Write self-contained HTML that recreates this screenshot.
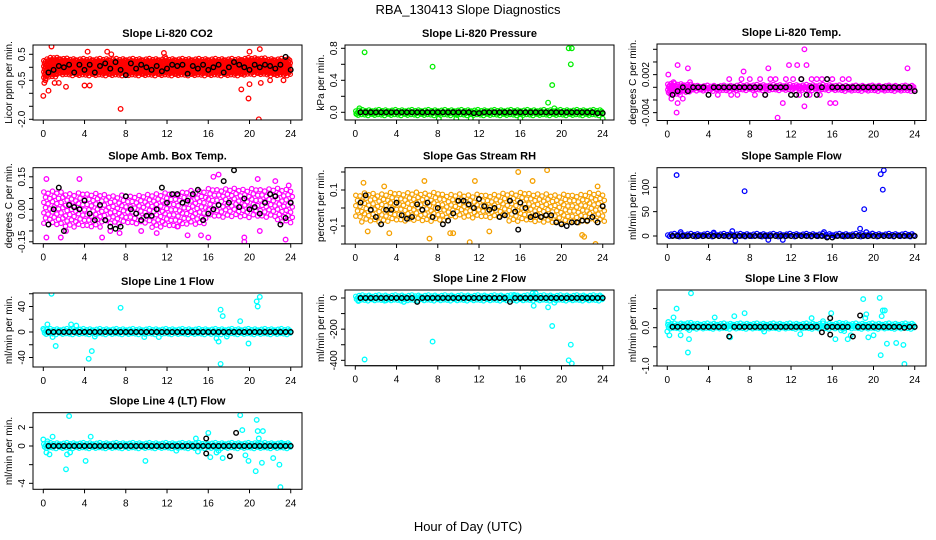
<!DOCTYPE html>
<html><head><meta charset="utf-8"><style>
html,body{margin:0;padding:0;background:#fff;}
svg{display:block;font-family:"Liberation Sans",Arial,sans-serif;}
</style></head><body>
<svg id="fig" width="936" height="540" viewBox="0 0 936 540" xmlns="http://www.w3.org/2000/svg">
<text x="468" y="14" text-anchor="middle" font-size="13">RBA_130413  Slope Diagnostics</text>
<text x="468" y="531" text-anchor="middle" font-size="13">Hour of Day (UTC)</text>
</svg>
<script>
// ---------- DATA ----------
const xTicks = [0,4,8,12,16,20,24];

const co2BandLo = [-0.45,-0.35,-0.28,-0.28,-0.28,-0.28,-0.28,-0.28,-0.28,-0.28,-0.28,-0.28,-0.28,-0.28,-0.28,-0.28,-0.28,-0.28,-0.28,-0.28,-0.3,-0.28,-0.28,-0.28,-0.28];
const co2BandHi = [0.25,0.35,0.3,0.28,0.28,0.28,0.28,0.28,0.28,0.28,0.28,0.28,0.28,0.28,0.28,0.28,0.28,0.28,0.28,0.28,0.32,0.32,0.28,0.28,0.28];
const co2OutX = [0,0.5,0.8,1.1,1.5,2.2,4.0,4.5,7.5,4.3,6.2,11.7,11.8,19.2,19.9,20.0,20.9,21.1,22.0,23.3,20.0,21.0,6.6,0.2,0.1];
const co2OutY = [-1.1,-0.9,0.8,-0.6,-0.6,-0.75,-0.7,-0.7,-1.6,0.6,0.6,0.55,0.4,-0.85,-1.2,-0.65,-2.0,-0.6,-0.5,-0.5,0.6,0.7,0.5,-0.5,-0.6];
const co2Blk = [-0.2,-0.1,0.05,0.0,0.1,-0.2,0.1,-0.1,0.1,-0.2,0.05,0.15,-0.05,0.2,-0.1,-0.3,0.15,-0.05,0.1,0.0,-0.1,0.05,-0.15,-0.05,0.1,0.05,0.1,-0.25,0.05,-0.05,0.1,-0.1,0.0,0.1,-0.2,0.0,0.2,0.1,0.0,-0.1,0.1,0.0,0.1,0.05,-0.05,0.1,0.4,-0.1];
const co2ExX = [], co2ExY = [];

const presBandLo = [-0.02,-0.02,-0.02,-0.02,-0.02,-0.02,-0.02,-0.02,-0.02,-0.02,-0.02,-0.02,-0.02,-0.02,-0.02,-0.02,-0.02,-0.02,-0.02,-0.02,-0.02,-0.02,-0.02,-0.02,-0.02];
const presBandHi = [0.015,0.015,0.015,0.015,0.015,0.015,0.015,0.015,0.015,0.015,0.015,0.015,0.015,0.015,0.015,0.015,0.015,0.015,0.015,0.015,0.015,0.015,0.015,0.015,0.015];
const presOutX = [0.9,7.5,8.1,9.8,11.2,16.0,18.7,19.1,19.3,20.7,21.0,20.9,24.0,0.4,0.1];
const presOutY = [0.75,0.57,-0.08,-0.08,-0.08,-0.08,0.12,0.34,0.05,0.8,0.8,0.6,-0.08,0.05,-0.02];
const presBlk = [0,0,0,0,0,0,0,0,0,0,0,0,0,0,0,0,0,0,0,0,0,0,-0.01,-0.01,0,0,0,0,0,0,0,0,0,0,0,0,0,0,0,0,0,0,0,0,0,0,-0.01,-0.01];
const presExX = [], presExY = [];

const tempBandLo = [-0.0012,-0.001,-0.0008,-0.0005,-0.0005,-0.0005,-0.0005,-0.0006,-0.0006,-0.0006,-0.0006,-0.0006,-0.0006,-0.0006,-0.0006,-0.0006,-0.0005,-0.0005,-0.0005,-0.0005,-0.0005,-0.0005,-0.0005,-0.0005,-0.0005];
const tempBandHi = [0.0005,0.0004,0.0003,0.0001,0.0001,0.0001,0.0001,0.0002,0.0002,0.0002,0.0002,0.0002,0.0002,0.0002,0.0002,0.0002,0.0002,0.0001,0.0001,0.0001,0.0001,0.0001,0.0001,0.0001,0.0001];
const tempOutX = [0.1,1.0,2.0,0.9,10.7,13.3,13.5,11.8,12.6,7.4,23.3,9.8,13.3,11.2,15.8,16.3,1.0,4.9,6.2,6.8,7.2,8.0,9.0,10.0,10.5,11.5,12.2,13.0,14.0,14.5,15.0,15.5,16.0,17.0,17.6,8.5,9.5,12.8,13.8,14.8,6.0,0.4,1.5,2.2,0.6];
const tempOutY = [0.002,0.0035,0.003,-0.004,-0.0048,0.006,0.0035,0.0035,0.0035,0.0025,0.003,0.003,-0.003,-0.0025,-0.0025,-0.0025,-0.0025,-0.0012,-0.0012,-0.0012,0.0013,0.0013,0.0013,0.0013,0.0013,0.0013,0.0013,0.0013,0.0013,0.0013,0.0013,0.0013,0.0013,0.0013,0.0013,-0.0012,-0.0012,-0.0012,-0.0012,-0.0012,0.0013,-0.0018,-0.0018,0.0008,0.0008];
const tempBlk = [-0.0012,-0.0006,0,-0.0006,0,0,0,-0.0012,0,0,0,0,0,0,0,0,0,0,-0.0012,0,0,0,0,-0.0012,-0.0012,0.0013,-0.0012,0,-0.0012,0,0.0013,0,0,0,0,0,0,0,0,0,0,0,0,0,0,0,0,-0.0006];
const tempExX = [], tempExY = [];

const ambBandLo = [-0.08,-0.08,-0.08,-0.08,-0.08,-0.08,-0.08,-0.08,-0.08,-0.08,-0.08,-0.08,-0.08,-0.08,-0.08,-0.07,-0.05,-0.05,-0.05,-0.05,-0.05,-0.05,-0.05,-0.06,-0.06];
const ambBandHi = [0.08,0.08,0.07,0.07,0.07,0.07,0.06,0.06,0.06,0.06,0.06,0.07,0.07,0.07,0.08,0.08,0.09,0.09,0.09,0.09,0.09,0.09,0.09,0.09,0.09];
const ambOutX = [0.3,0.3,3.5,3.3,5.7,5.8,1.7,6.5,9.5,11,14,15.3,16,16.5,17,19.5,19.5,21,20.8,22.5,23.5,23.8,13,7.4,2.2];
const ambOutY = [0.14,-0.13,0.14,-0.17,-0.13,-0.17,-0.13,-0.1,-0.1,-0.11,-0.12,-0.12,-0.13,0.15,0.16,-0.13,-0.15,-0.1,0.14,0.13,-0.14,0.11,-0.08,-0.11,-0.1];
const ambBlk = [-0.07,0.0,0.1,-0.1,0.02,0.01,0.0,0.04,-0.02,-0.05,0.02,-0.05,-0.08,-0.09,-0.08,0.06,0.0,-0.02,-0.05,-0.03,-0.03,0.0,0.1,0.03,0.07,0.07,0.03,0.04,0.07,0.09,-0.05,-0.02,0.0,0.02,0.13,0.03,0.18,0.01,0.05,0.0,0.01,-0.02,0.03,0.07,0.06,-0.07,-0.04,0.03];
const ambExX = [], ambExY = [];

const rhBandLo = [-0.07,-0.08,-0.08,-0.08,-0.08,-0.07,-0.07,-0.07,-0.07,-0.07,-0.07,-0.07,-0.07,-0.07,-0.07,-0.07,-0.07,-0.07,-0.08,-0.08,-0.08,-0.08,-0.08,-0.08,-0.08];
const rhBandHi = [0.07,0.08,0.07,0.08,0.08,0.08,0.08,0.08,0.08,0.07,0.07,0.07,0.07,0.07,0.07,0.08,0.08,0.08,0.07,0.07,0.07,0.07,0.07,0.08,0.08];
const rhOutX = [0.8,1.2,3.3,6.7,7.2,9.2,11.1,11.6,15.8,18.6,17.2,22,23.3,23.5,13,9.5,22.2,2.8];
const rhOutY = [0.14,-0.13,-0.14,0.15,-0.17,-0.14,-0.19,0.15,0.2,0.21,0.15,-0.15,-0.2,0.12,-0.13,-0.14,-0.16,0.12];
const rhBlk = [0.03,0.07,-0.01,-0.05,-0.09,-0.01,-0.01,0.03,-0.04,-0.06,-0.05,0.02,-0.01,0.03,-0.05,0.0,-0.09,-0.07,-0.03,0.04,0.04,0.02,0.0,0.05,0.01,-0.01,0.0,-0.05,-0.04,0.04,-0.02,0.03,0.0,-0.05,-0.04,-0.05,-0.04,-0.04,-0.08,-0.09,-0.1,-0.08,-0.08,-0.07,-0.07,-0.05,-0.08,0.01];
const rhExX = [15.8], rhExY = [-0.12];

const smpBandLo = [-2,-2,-2,-2,-2,-2,-2,-2,-2,-2,-2,-2,-2,-2,-2,-2,-2,-2,-2,-2,-2,-2,-2,-2,-2];
const smpBandHi = [2,2,2,2,2,2,2,2,2,2,2,2,2,2,2,2,2,2,2,2,2,2,2,2,2];
const smpOutX = [0.9,7.5,18.7,19.1,19.3,20.7,21.0,20.9,6.6,9.8,11.2,15.2,6.3,4.5,1.3,19.9];
const smpOutY = [125,92,15,55,8,127,135,95,-10,-8,-8,8,10,7,8,5];
const smpBlk = [0,0,0,0,0,0,0,0,0,0,0,0,0,0,0,0,0,0,0,0,0,0,0,0,0,0,0,0,0,0,-3,-3,0,0,0,0,0,0,0,0,0,0,0,0,0,0,0,0];
const smpExX = [], smpExY = [];

const l1BandLo = [-3,-3,-3,-3,-3,-3,-3,-3,-3,-3,-3,-3,-3,-3,-3,-3,-3,-3,-3,-3,-3,-3,-3,-3,-3];
const l1BandHi = [3,3,3,3,3,3,3,3,3,3,3,3,3,3,3,3,3,3,3,3,3,3,3,3,3];
const l1OutX = [0,0.4,0.8,0.9,1.2,2.7,3.2,4.4,4.7,5.0,7.5,9.8,11.2,17.2,17.4,17.2,17.0,16.8,19.1,19.9,20.7,20.8,21.0,17.8];
const l1OutY = [5,12,60,-8,-22,12,10,-42,-30,-7,38,-8,-8,35,25,-50,-15,-10,17,-18,48,40,55,-7];
const l1Blk = [0,0,0,0,0,0,0,0,0,0,0,0,0,0,0,0,0,0,0,0,0,0,0,0,0,0,0,0,0,0,0,0,0,0,0,0,0,0,0,0,0,0,0,0,0,0,0,0];
const l1ExX = [], l1ExY = [];

const l2BandLo = [-10,-10,-10,-10,-10,-10,-10,-10,-10,-10,-10,-10,-10,-10,-10,-10,-10,-10,-10,-10,-10,-10,-10,-10,-10];
const l2BandHi = [10,10,10,10,10,10,10,10,10,10,10,10,10,10,10,10,10,10,10,10,10,10,10,10,10];
const l2OutX = [0.3,0.9,4.7,7.5,17.3,18.7,19.1,19.3,20.7,20.9,21.0,17.2,17.5,15.4,3];
const l2OutY = [-20,-395,-25,-280,-50,-60,-180,-30,-400,-300,-420,30,30,20,-15];
const l2Blk = [0,0,0,0,0,0,0,0,0,0,0,-25,0,0,0,0,0,0,0,0,0,0,0,0,0,0,0,0,0,-25,0,0,0,0,0,0,0,0,0,0,0,0,0,0,0,0,0,0];
const l2ExX = [], l2ExY = [];

const l3BandLo = [-0.06,-0.05,-0.05,-0.05,-0.05,-0.05,-0.05,-0.05,-0.05,-0.05,-0.05,-0.05,-0.05,-0.05,-0.05,-0.05,-0.05,-0.05,-0.05,-0.05,-0.05,-0.05,-0.05,-0.05,-0.05];
const l3BandHi = [0.08,0.08,0.1,0.08,0.08,0.08,0.08,0.08,0.08,0.08,0.08,0.08,0.08,0.08,0.08,0.08,0.08,0.1,0.08,0.08,0.08,0.08,0.08,0.08,0.08];
const l3OutX = [0,0.2,0.1,0.6,0.9,1.3,2.0,2.1,2.3,4.6,6.5,7.5,6.1,9.4,12.9,14,15.1,15.9,16.3,17.5,17.8,19.0,19.3,19.5,20.0,20.6,20.7,20.9,20.8,21.1,21.3,22.2,22.9,23.0,19.2];
const l3OutY = [-0.1,-0.2,0.15,0.27,0.5,-0.2,-0.65,-0.3,0.9,0.27,0.3,0.38,-0.25,-0.1,-0.17,0.25,0.17,0.38,-0.3,-0.3,-0.2,0.75,0.35,-0.25,-0.2,0.78,-0.72,0.45,0.3,0.45,-0.42,-0.4,-0.45,-0.95,0.25];
const l3Blk = [0.02,0.02,0.02,0.02,0.02,0.02,0.02,0.02,0.02,0.02,0.02,-0.23,0.02,0.02,0.02,0.02,0.02,0.02,0.02,0.02,0.02,0.02,0.02,0.02,0.02,0.02,0.02,0.02,0.02,-0.12,0.02,0.02,0.02,0.02,0.02,-0.23,0.02,0.02,0.02,0.02,0.02,0.02,0.02,0.02,0.02,0.0,0.02,0.02];
const l3ExX = [15.8,15.8,18.7], l3ExY = [0.25,-0.18,0.32];

const l4BandLo = [-0.2,-0.2,-0.2,-0.2,-0.2,-0.2,-0.2,-0.2,-0.2,-0.2,-0.2,-0.2,-0.2,-0.2,-0.2,-0.2,-0.2,-0.2,-0.2,-0.2,-0.2,-0.2,-0.2,-0.2,-0.2];
const l4BandHi = [0.2,0.2,0.2,0.2,0.2,0.2,0.2,0.2,0.2,0.2,0.2,0.2,0.2,0.2,0.2,0.2,0.2,0.2,0.2,0.2,0.2,0.2,0.2,0.2,0.2];
const l4OutX = [0,0.3,0.4,0.6,0.9,2.2,2.5,2.6,2.3,4.1,4.6,9.9,12.9,14.8,15.0,16.0,16.2,16.8,17.0,17.4,19.1,19.3,19.6,19.9,20.6,20.7,20.8,20.9,21.3,21.2,22.3,22.9,23.0,23.2];
const l4OutY = [0.7,-0.7,0.5,-0.9,1.0,-2.5,3.2,-0.7,-0.9,-1.6,1.0,-1.6,-0.5,0.8,-0.6,1.4,-1.2,-0.7,-0.5,-1.3,3.3,1.7,-1.0,-1.6,-2.7,2.8,1.6,0.8,1.6,-1.8,-1.3,-2.0,-4.4,0.2];
const l4Blk = [0,0,0,0,0,0,0,0,0,0,0,0,0,0,0,0,0,0,0,0,0,0,0,0,0,0,0,0,0,0,0,0,0,0,0,0,0,0,0,0,0,0,0,0,0,0,0,0];
const l4ExX = [15.8,15.8,18.1,18.7], l4ExY = [0.8,-0.8,-1.1,1.4];

// tick values / labels
const co2YTicks = [0.5,0,-0.5,-1,-1.5,-2], co2YLabels = ["0.5","","-0.5","","","-2.0"];
const presYTicks = [0,0.2,0.4,0.6,0.8], presYLabels = ["0.0","","0.4","","0.8"];
const tempYTicks = [-0.004,-0.002,0,0.002,0.004,0.006], tempYLabels = ["-0.004","","","0.002","",""];
const ambYTicks = [-0.15,-0.1,-0.05,0,0.05,0.1,0.15], ambYLabels = ["-0.15","","","0.00","","","0.15"];
const rhYTicks = [-0.2,-0.1,0,0.1,0.2], rhYLabels = ["","-0.1","","0.1",""];
const smpYTicks = [0,50,100], smpYLabels = ["0","50","100"];
const l1YTicks = [-40,-20,0,20,40,60], l1YLabels = ["-40","","0","","40",""];
const l2YTicks = [-400,-300,-200,-100,0], l2YLabels = ["-400","","-200","","0"];
const l3YTicks = [-1,-0.5,0,0.5], l3YLabels = ["-1.0","","0.0",""];
const l4YTicks = [-4,-2,0,2], l4YLabels = ["-4","","0","2"];

// ---------- LAYOUT ----------
const panels = [
 {id:'co2',title:'Slope Li-820 CO2',ylab:'Licor ppm per min.',col:0,top:45,bot:120,y0:67.3,ppu:26,color:'#ff0000',lo:co2BandLo,hi:co2BandHi,ox:co2OutX,oy:co2OutY,blk:co2Blk,ex:co2ExX,ey:co2ExY,yt:co2YTicks,yl:co2YLabels},
 {id:'pressure',title:'Slope Li-820 Pressure',ylab:'kPa per min.',col:1,top:45,bot:120,y0:112.3,ppu:80,color:'#00ee00',lo:presBandLo,hi:presBandHi,ox:presOutX,oy:presOutY,blk:presBlk,ex:presExX,ey:presExY,yt:presYTicks,yl:presYLabels},
 {id:'temp',title:'Slope Li-820 Temp.',ylab:'degrees C per min.',col:2,top:44,bot:120.5,y0:87.3,ppu:6333,color:'#ff00ff',lo:tempBandLo,hi:tempBandHi,ox:tempOutX,oy:tempOutY,blk:tempBlk,ex:tempExX,ey:tempExY,yt:tempYTicks,yl:tempYLabels},
 {id:'amb-box-temp',title:'Slope Amb. Box Temp.',ylab:'degrees C per min.',col:0,top:167.7,bot:243.7,y0:209.3,ppu:216.7,color:'#ff00ff',lo:ambBandLo,hi:ambBandHi,ox:ambOutX,oy:ambOutY,blk:ambBlk,ex:ambExX,ey:ambExY,yt:ambYTicks,yl:ambYLabels,sparse:true},
 {id:'gas-rh',title:'Slope Gas Stream RH',ylab:'percent per min.',col:1,top:167.7,bot:244,y0:208,ppu:180,color:'#f5a000',lo:rhBandLo,hi:rhBandHi,ox:rhOutX,oy:rhOutY,blk:rhBlk,ex:rhExX,ey:rhExY,yt:rhYTicks,yl:rhYLabels,sparse:true},
 {id:'sample-flow',title:'Slope Sample Flow',ylab:'ml/min per min.',col:2,top:167.7,bot:244,y0:236,ppu:0.487,color:'#0000ff',lo:smpBandLo,hi:smpBandHi,ox:smpOutX,oy:smpOutY,blk:smpBlk,ex:smpExX,ey:smpExY,yt:smpYTicks,yl:smpYLabels},
 {id:'line1',title:'Slope Line 1 Flow',ylab:'ml/min per min.',col:0,top:293,bot:367,y0:332,ppu:0.6375,color:'#00ffff',lo:l1BandLo,hi:l1BandHi,ox:l1OutX,oy:l1OutY,blk:l1Blk,ex:l1ExX,ey:l1ExY,yt:l1YTicks,yl:l1YLabels},
 {id:'line2',title:'Slope Line 2 Flow',ylab:'ml/min per min.',col:1,top:290,bot:365.7,y0:298,ppu:0.1558,color:'#00ffff',lo:l2BandLo,hi:l2BandHi,ox:l2OutX,oy:l2OutY,blk:l2Blk,ex:l2ExX,ey:l2ExY,yt:l2YTicks,yl:l2YLabels},
 {id:'line3',title:'Slope Line 3 Flow',ylab:'ml/min per min.',col:2,top:290,bot:366,y0:327.7,ppu:38.2,color:'#00ffff',lo:l3BandLo,hi:l3BandHi,ox:l3OutX,oy:l3OutY,blk:l3Blk,ex:l3ExX,ey:l3ExY,yt:l3YTicks,yl:l3YLabels},
 {id:'line4',title:'Slope Line 4 (LT) Flow',ylab:'ml/min per min.',col:0,top:412.7,bot:489.3,y0:446,ppu:9.33,color:'#00ffff',lo:l4BandLo,hi:l4BandHi,ox:l4OutX,oy:l4OutY,blk:l4Blk,ex:l4ExX,ey:l4ExY,yt:l4YTicks,yl:l4YLabels}
];

const NS='http://www.w3.org/2000/svg';
const svg=document.getElementById('fig');
function mk(tag,attrs,parent){const e=document.createElementNS(NS,tag);for(const k in attrs)e.setAttribute(k,attrs[k]);parent.appendChild(e);return e;}
const jit=[0,1.3,-0.8,0.6,-1.4,0.9,-0.3,1.6,-1.1,0.2];

panels.forEach(p=>{
  const off=p.col*312;
  const L=33+off, R=302+off;
  const xs=h=>43.3+off+h*10.31;
  const ys=v=>p.y0-v*p.ppu;
  const g=mk('g',{},svg);
  
  
  const cp=mk('clipPath',{id:'cp-'+p.id},g);
  mk('rect',{x:L,y:p.top,width:R-L,height:p.bot-p.top},cp);
  const plot=mk('g',{'clip-path':'url(#cp-'+p.id+')'},g);
  
  
  const band=mk('g',{fill:'none',stroke:p.color,'stroke-width':1.2},plot);
  
  
  const xstep=p.sparse?0.42:0.16, ystep=p.sparse?5.2:2.8;
  let col=0;
  for(let h=0.05;h<=24;h+=xstep){
    const i=Math.min(23,Math.floor(h)), f=h-i;
    const lo=p.lo[i]+(p.lo[i+1]-p.lo[i])*f, hi=p.hi[i]+(p.hi[i+1]-p.hi[i])*f;
    const j=jit[col%jit.length];
    const y1=ys(hi)+j, y2=ys(lo)+j;
    let k=0;
    for(let y=y1;y<=y2+0.01;y+=ystep){
      const c=mk('circle',{cx:(xs(h)+((k%2)?xstep*4:0)).toFixed(1),cy:y.toFixed(1),r:2.2},band);
      
      
      k++;
    }
    col++;
  }
  const og=mk('g',{fill:'none',stroke:p.color,'stroke-width':1.3},plot);
  
  
  p.ox.forEach((x,i)=>{
    const c=mk('circle',{cx:xs(x).toFixed(1),cy:ys(p.oy[i]).toFixed(1),r:2.3},og);
    
    
  });
  const bg=mk('g',{fill:'none',stroke:'#000','stroke-width':1.4},plot);
  
  
  p.blk.forEach((v,i)=>{
    const c=mk('circle',{cx:xs(0.5*(i+1)).toFixed(1),cy:ys(v).toFixed(1),r:2.3},bg);
    
    
  });
  p.ex.forEach((x,i)=>{
    const c=mk('circle',{cx:xs(x).toFixed(1),cy:ys(p.ey[i]).toFixed(1),r:2.3},bg);
    
    
  });
  const box=mk('rect',{x:L,y:p.top,width:R-L,height:p.bot-p.top,fill:'none',stroke:'#000','stroke-width':1},g);
  
  
  const t=mk('text',{x:(L+R)/2,y:p.top-8,'text-anchor':'middle','font-size':11,'font-weight':'bold'},g);
  t.textContent=p.title;
  
  
  const xa=mk('g',{stroke:'#000','font-size':10},g);
  
  
  mk('line',{x1:xs(0),x2:xs(24),y1:p.bot,y2:p.bot},xa);
  xTicks.forEach(v=>{
    mk('line',{x1:xs(v),x2:xs(v),y1:p.bot,y2:p.bot+4},xa);
    const tl=mk('text',{x:xs(v),y:p.bot+17,'text-anchor':'middle',stroke:'none',fill:'#000'},xa);
    tl.textContent=v;
    
    
  });
  const ya=mk('g',{stroke:'#000','font-size':10},g);
  
  
  const yv=p.yt.map(ys);
  mk('line',{x1:L,x2:L,y1:Math.min(...yv),y2:Math.max(...yv)},ya);
  p.yt.forEach((v,i)=>{
    const y=ys(v);
    mk('line',{x1:L-4,x2:L,y1:y,y2:y},ya);
    if(p.yl[i]){
      const tl=mk('text',{x:L-8,y:y,'text-anchor':'middle',stroke:'none',fill:'#000',transform:'rotate(-90 '+(L-8)+' '+y+')'},ya);
      tl.textContent=p.yl[i];
      
      
    }
  });
  const cy=(p.top+p.bot)/2, yx=L-21;
  const yt=mk('text',{x:yx,y:cy,'text-anchor':'middle','font-size':10,transform:'rotate(-90 '+yx+' '+cy+')'},g);
  yt.textContent=p.ylab;
  
  
});
</script>
</body></html>
